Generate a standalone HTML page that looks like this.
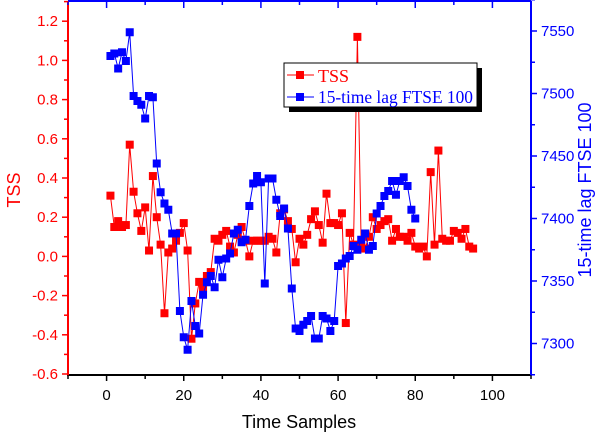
<!DOCTYPE html>
<html><head><meta charset="utf-8"><style>
html,body{margin:0;padding:0;background:#fff;}
svg{display:block;font-family:"Liberation Sans",sans-serif;}
</style></head><body>
<svg id="chart" width="604" height="432" viewBox="0 0 604 432">
<g id="marks"></g>
<g id="axes"></g>
<g>
 <rect x="289" y="68" width="193" height="44" fill="#000"/>
 <rect x="284" y="63" width="193" height="44" fill="#fff" stroke="#000" stroke-width="1"/>
 <line x1="287" y1="75" x2="314" y2="75" stroke="#f00" stroke-width="1"/>
 <rect x="296" y="71" width="8" height="8" fill="#f00"/>
 <text x="318" y="82" fill="#f00" font-family="Liberation Serif,serif" font-size="18">TSS</text>
 <line x1="287" y1="97" x2="314" y2="97" stroke="#00f" stroke-width="1"/>
 <rect x="296" y="93" width="8" height="8" fill="#00f"/>
 <text x="318" y="103" fill="#00f" font-family="Liberation Serif,serif" font-size="18" textLength="155" lengthAdjust="spacingAndGlyphs">15-time lag FTSE 100</text>
</g>
<text x="20" y="190" fill="#f00" font-size="18" text-anchor="middle" transform="rotate(-90 20 190)">TSS</text>
<text x="591" y="190" fill="#00f" font-size="18" text-anchor="middle" transform="rotate(-90 591 190)">15-time lag FTSE 100</text>
<text x="299" y="428" fill="#000" font-size="18" text-anchor="middle">Time Samples</text>
</svg>
<script>
const tss = [0.31,0.15,0.18,0.15,0.16,0.57,0.33,0.22,0.13,0.25,0.03,0.41,0.2,0.06,-0.29,0.02,0.04,0.08,0.12,0.17,0.03,-0.42,-0.24,-0.13,-0.16,-0.1,-0.08,0.09,0.08,0.11,0.13,0.05,0.02,0.11,0.15,0.08,0.0,
0.08,0.08,0.08,0.08,0.1,0.09,0.02,0.22,0.24,0.18,0.14,-0.03,0.09,0.06,0.11,0.19,0.23,0.16,0.07,0.32,0.17,0.17,0.16,0.22,-0.34,0.12,0.06,1.12,0.05,0.04,0.1,0.2,0.14,0.16,0.18,0.19,0.08,0.14,0.1,0.1,0.08,0.12,0.05,0.04,0.05,0.0,0.43,0.06,0.54,0.09,0.08,0.08,0.13,0.12,0.09,0.14,0.05,0.04];
const ftse = [7530,7532,7520,7533,7526,7549,7498,7494,7491,7480,7498,7497,7444,7421,7412,7407,7388,7388,7326,7305,7295,7334,7314,7308,7339,7349,7354,7345,7367,7353,7368,7372,7388,7391,7381,7383,7410,7428,7434,7429,7348,7432,7432,7415,7402,7408,7392,7344,7312,7310,7315,7318,7322,7304,7304,7322,7320,7310,7318,7362,7364,7368,7370,7378,7375,7383,7388,7375,7378,7404,7410,7418,7422,7430,7419,7430,7433,7426,7407,7400];
const xTicks = [0,20,40,60,80,100];
const leftTicks = [-0.6,-0.4,-0.2,0.0,0.2,0.4,0.6,0.8,1.0,1.2];
const leftLabels = ["-0.6","-0.4","-0.2","0.0","0.2","0.4","0.6","0.8","1.0","1.2"];
const rightTicks = [7300,7350,7400,7450,7500,7550];

const L=68,R=531,T=1,B=375;
const xs=v=>L+(v+10)/120*(R-L);
const yl=v=>374-(v+0.6)/0.2*39.2;
const yr=v=>31+(7550-v)/50*62.5;
const NS="http://www.w3.org/2000/svg";
function mk(tag,attrs,parent){const e=document.createElementNS(NS,tag);for(const k in attrs)e.setAttribute(k,attrs[k]);parent.appendChild(e);return e;}
const marks=document.getElementById('marks'), axes=document.getElementById('axes');

function series(vals,yf,color,name){
  const pts=vals.map((v,i)=>xs(i+1).toFixed(1)+','+yf(v).toFixed(1)).join(' ');
  const pl=mk('polyline',{points:pts,fill:'none',stroke:color,'stroke-width':1},marks);
  
  
  vals.forEach((v,i)=>{
    const r=mk('rect',{x:xs(i+1)-4,y:yf(v)-4,width:8,height:8,fill:color},marks);
    
    
  });
}
series(tss,yl,'#f00','tss');
series(ftse,yr,'#00f','ftse');

mk('line',{x1:L,y1:B,x2:R,y2:B,stroke:'#000','stroke-width':2},axes);
mk('line',{x1:L,y1:T,x2:R,y2:T,stroke:'#00f','stroke-width':2},axes);
mk('line',{x1:L,y1:T,x2:L,y2:B+1,stroke:'#f00','stroke-width':2},axes);
mk('line',{x1:R,y1:T,x2:R,y2:B+1,stroke:'#00f','stroke-width':2},axes);
for(let v=-10;v<=110;v+=10){
  const major=v%20===0;
  mk('line',{x1:xs(v),y1:B,x2:xs(v),y2:B+(major?6:4),stroke:'#000','stroke-width':1.5},axes);
  mk('line',{x1:xs(v),y1:T,x2:xs(v),y2:T+(major?7:4),stroke:'#00f','stroke-width':1.5},axes);
}
xTicks.forEach(v=>{
  const t=mk('text',{x:xs(v),y:400,'text-anchor':'middle','font-size':15,fill:'#000'},axes);
  t.textContent=v;
  
  
});
leftTicks.forEach((v,i)=>{
  mk('line',{x1:L,y1:yl(v),x2:L-6,y2:yl(v),stroke:'#f00','stroke-width':1.5},axes);
  mk('line',{x1:L,y1:yl(v+0.1),x2:L-4,y2:yl(v+0.1),stroke:'#f00','stroke-width':1.5},axes);
  const t=mk('text',{x:L-10,y:yl(v)+5,'text-anchor':'end','font-size':15,fill:'#f00'},axes);
  t.textContent=leftLabels[i];
  
  
});
rightTicks.forEach(v=>{
  mk('line',{x1:R,y1:yr(v),x2:R+6,y2:yr(v),stroke:'#00f','stroke-width':1.5},axes);
  mk('line',{x1:R,y1:yr(v+25),x2:R+4,y2:yr(v+25),stroke:'#00f','stroke-width':1.5},axes);
  const t=mk('text',{x:R+10,y:yr(v)+5,'font-size':15,fill:'#00f'},axes);
  t.textContent=v;
  
  
});
mk('line',{x1:R,y1:yr(7275),x2:R+4,y2:yr(7275),stroke:'#00f','stroke-width':1.5},axes);
</script>
</body></html>
